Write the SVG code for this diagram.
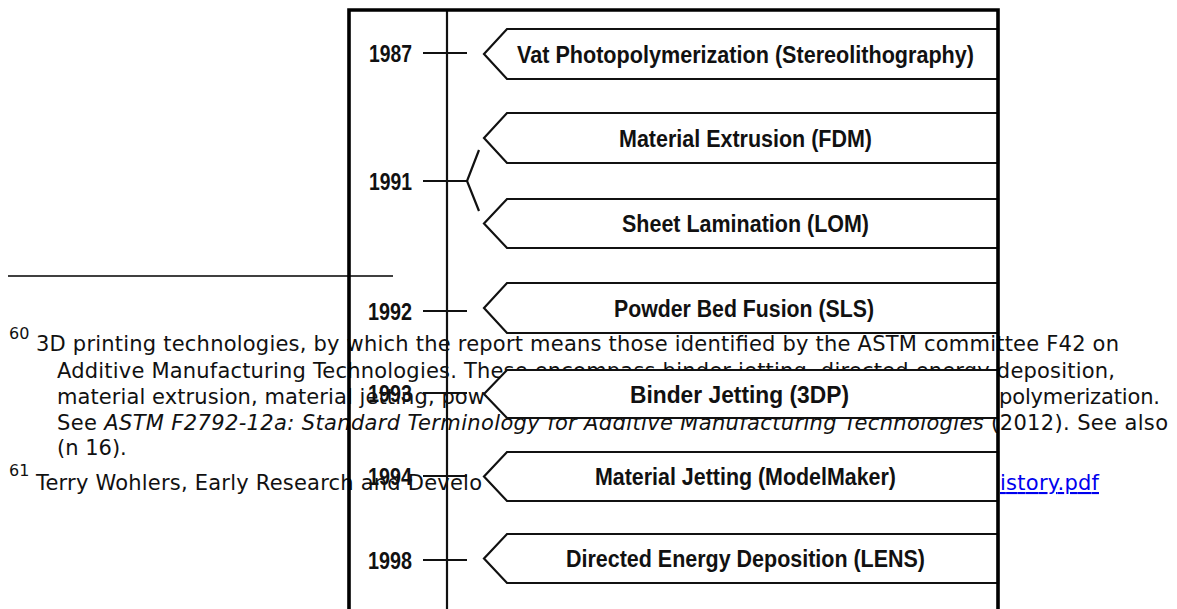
<svg xmlns="http://www.w3.org/2000/svg" width="1177" height="609" viewBox="0 0 1177 609">
<style>
.fn{font-family:"DejaVu Sans",Verdana,sans-serif;font-size:21px;fill:#111}
.sup{font-family:"DejaVu Sans",Verdana,sans-serif;font-size:16px;fill:#111}
.link{font-family:"DejaVu Sans",Verdana,sans-serif;font-size:21px;fill:#0000ee;text-decoration:underline}
.yr{font-family:"Liberation Sans",Arial,sans-serif;font-weight:bold;font-size:23px;fill:#111;text-anchor:end}
.lb{font-family:"Liberation Sans",Arial,sans-serif;font-weight:bold;font-size:23px;fill:#111;text-anchor:middle}
.box{fill:#fff;stroke:#111;stroke-width:2.2;stroke-linejoin:miter}
.ln{stroke:#111;stroke-width:2.2;fill:none}
.fr{stroke:#000;stroke-width:3.6;fill:none}
</style>
<rect width="1177" height="609" fill="#fff"/>

<g id="footnotes">
  <line x1="8" y1="276" x2="393" y2="276" stroke="#000" stroke-width="1.6"/>
  <text class="sup" x="9" y="339">60</text>
  <text class="fn" x="36" y="351" textLength="1083" lengthAdjust="spacing">3D printing technologies, by which the report means those identified by the ASTM committee F42 on</text>
  <text class="fn" x="57" y="378" textLength="1058" lengthAdjust="spacing">Additive Manufacturing Technologies. These encompass binder jetting, directed energy deposition,</text>
  <text class="fn" x="57" y="404" textLength="428" lengthAdjust="spacing">material extrusion, material jetting, pow</text>
  <text class="fn" x="999" y="404" textLength="161" lengthAdjust="spacing">polymerization.</text>
  <text class="fn" x="57" y="430" textLength="1111" lengthAdjust="spacing">See <tspan font-style="italic">ASTM F2792-12a: Standard Terminology for Additive Manufacturing Technologies</tspan> (2012). See also</text>
  <text class="fn" x="57" y="455">(n 16).</text>
  <text class="sup" x="9" y="476">61</text>
  <text class="fn" x="36" y="490" textLength="446" lengthAdjust="spacing">Terry Wohlers, Early Research and Develo</text>
  <text class="link" x="1000" y="490" textLength="99" lengthAdjust="spacing">istory.pdf</text>
</g>

<g id="axis">
  <line class="ln" x1="447" y1="10" x2="447" y2="609"/>
</g>

<g id="connectors">
  <line class="ln" x1="423" y1="53" x2="467" y2="53"/>
  <line class="ln" x1="423" y1="181" x2="467" y2="181"/>
  <polyline class="ln" points="479,150 467,181 479,211"/>
  <line class="ln" x1="423" y1="311" x2="467" y2="311"/>
  <line class="ln" x1="423" y1="393" x2="467" y2="393"/>
  <line class="ln" x1="423" y1="476" x2="467" y2="476"/>
  <line class="ln" x1="423" y1="560" x2="467" y2="560"/>
</g>

<g id="years">
  <text class="yr" x="412" y="61.5" textLength="43" lengthAdjust="spacingAndGlyphs">1987</text>
  <text class="yr" x="412" y="189.5" textLength="43" lengthAdjust="spacingAndGlyphs">1991</text>
  <text class="yr" x="412" y="319.5" textLength="44" lengthAdjust="spacingAndGlyphs">1992</text>
  <text class="yr" x="412" y="401.5" textLength="44" lengthAdjust="spacingAndGlyphs">1993</text>
  <text class="yr" x="412" y="484.5" textLength="44" lengthAdjust="spacingAndGlyphs">1994</text>
  <text class="yr" x="412" y="568.5" textLength="44" lengthAdjust="spacingAndGlyphs">1998</text>
</g>

<g id="node-vat">
  <polygon class="box" points="998,29 507,29 484,54 507,79 998,79"/>
  <text class="lb" x="745.5" y="62.5" textLength="457" lengthAdjust="spacingAndGlyphs">Vat Photopolymerization (Stereolithography)</text>
</g>
<g id="node-fdm">
  <polygon class="box" points="998,113 507,113 484,138 507,163 998,163"/>
  <text class="lb" x="745.5" y="146.5" textLength="253" lengthAdjust="spacingAndGlyphs">Material Extrusion (FDM)</text>
</g>
<g id="node-lom">
  <polygon class="box" points="998,199 507,199 484,223.5 507,248 998,248"/>
  <text class="lb" x="745.5" y="232" textLength="247" lengthAdjust="spacingAndGlyphs">Sheet Lamination (LOM)</text>
</g>
<g id="node-sls">
  <polygon class="box" points="998,283 507,283 484,308 507,333 998,333"/>
  <text class="lb" x="744" y="316.5" textLength="260" lengthAdjust="spacingAndGlyphs">Powder Bed Fusion (SLS)</text>
</g>
<g id="node-3dp">
  <polygon class="box" points="998,370 507,370 484,394 507,418 998,418"/>
  <text class="lb" x="739.5" y="402.5" textLength="219" lengthAdjust="spacingAndGlyphs">Binder Jetting (3DP)</text>
</g>
<g id="node-modelmaker">
  <polygon class="box" points="998,452 507,452 484,476.5 507,501 998,501"/>
  <text class="lb" x="745.5" y="485" textLength="301" lengthAdjust="spacingAndGlyphs">Material Jetting (ModelMaker)</text>
</g>
<g id="node-lens">
  <polygon class="box" points="998,534 507,534 484,558.5 507,583 998,583"/>
  <text class="lb" x="745.5" y="567" textLength="359" lengthAdjust="spacingAndGlyphs">Directed Energy Deposition (LENS)</text>
</g>

<g id="frame">
  <polyline class="fr" points="349,609 349,10 998,10 998,609"/>
</g>
</svg>
